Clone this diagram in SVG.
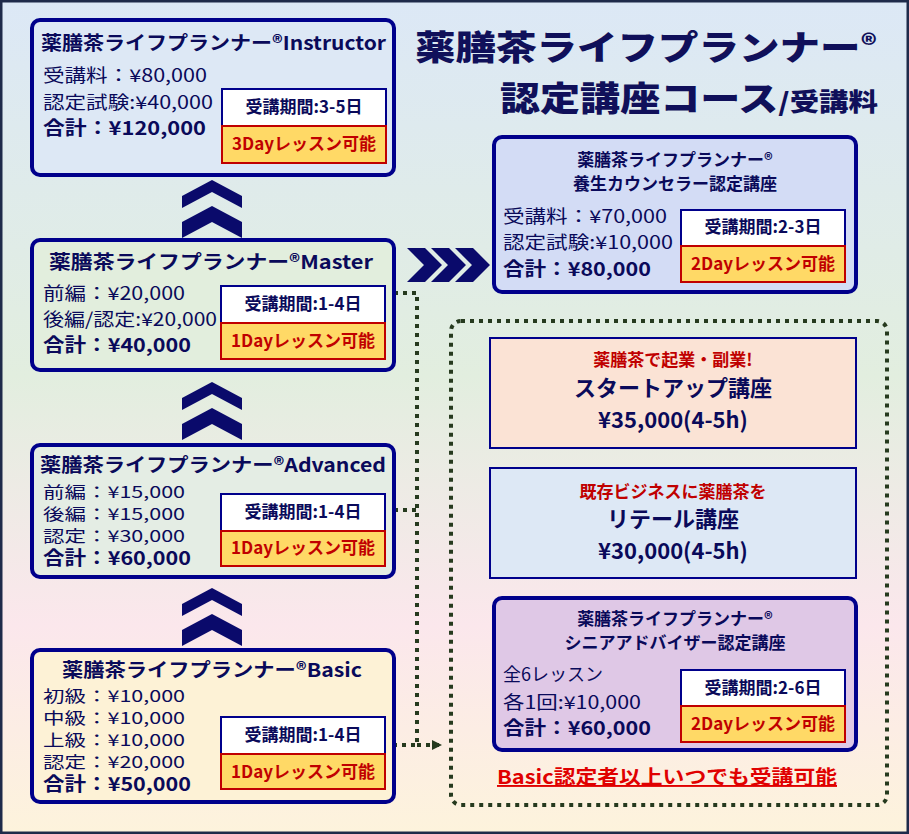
<svg xmlns="http://www.w3.org/2000/svg" width="909" height="834" viewBox="0 0 909 834">
<defs>
<linearGradient id="bg" x1="0" y1="0" x2="0" y2="1">
<stop offset="0" stop-color="#dce8f6"/><stop offset="0.45" stop-color="#e2eedf"/><stop offset="0.75" stop-color="#fbe7ec"/><stop offset="1" stop-color="#fdf3dc"/>
</linearGradient>
<g id="chev"><path d="M0 16 L30 0 L60 16 L60 28 L30 12 L0 28 Z M0 42 L30 26 L60 42 L60 58 L30 42 L0 58 Z" fill="#0a0a6b"/></g>
<marker id="ah" markerWidth="10" markerHeight="10" refX="8" refY="5" orient="auto" markerUnits="userSpaceOnUse"><path d="M0 0 L10 5 L0 10Z" fill="#263a1e"/></marker>
</defs>
<style>
text{font-family:"Noto Sans CJK JP","Noto Sans",sans-serif;fill:#0a0a5a}
.card{stroke:#00008b;stroke-width:4}
.h{font-size:19px;font-weight:bold}
.t{font-size:18px}
.s{font-size:16px}
.b{font-size:19px;font-weight:bold}
.w{fill:#fff;stroke:#00008b;stroke-width:2}
.o{fill:#ffd966;stroke:#c00000;stroke-width:2}
.wt{font-size:17px;font-weight:bold;text-anchor:middle}
.ot{font-size:17px;font-weight:bold;text-anchor:middle;fill:#c00000}
.pl{stroke:#00008b;stroke-width:2}
.c{text-anchor:middle}
.dot{fill:none;stroke:#263a1e;stroke-width:4;stroke-dasharray:4 5}
</style>
<rect x="1" y="1" width="907" height="832" fill="url(#bg)" stroke="#1e2a4a" stroke-width="3"/>
<g id="title">
<text x="415" y="60" textLength="462" lengthAdjust="spacingAndGlyphs" style="font-size:34px;font-weight:900;fill:#10105a">薬膳茶ライフプランナー<tspan style="font-size:26px" dy="-6">®</tspan></text>
<text x="500" y="111" textLength="378" lengthAdjust="spacingAndGlyphs" style="font-size:34px;font-weight:900;fill:#10105a">認定講座コース<tspan style="font-size:25px">/受講料</tspan></text>
</g>
<g id="chevrons">
<use href="#chev" x="182" y="180"/>
<use href="#chev" x="182" y="382"/>
<use href="#chev" x="182" y="588"/>
<path d="M407 248 L425 248 L442 265 L425 282 L407 282 L424 265 Z M431 248 L449 248 L466 265 L449 282 L431 282 L448 265 Z M455 248 L473 248 L490 265 L473 282 L455 282 L472 265 Z" fill="#0a0a6b"/>
</g>
<g id="connectors">
<path class="dot" d="M394 293 H417 V745 H395"/>
<path class="dot" d="M394 510 H417"/>
<path class="dot" d="M417 745 H440" marker-end="url(#ah)"/>
<rect class="dot" x="451" y="321" width="436" height="484" rx="10"/>
</g>
<g id="instructor">
<rect class="card" x="32" y="20" width="362" height="155" rx="8" fill="#dde8f5"/>
<text class="h" x="41" y="50" textLength="345" lengthAdjust="spacingAndGlyphs">薬膳茶ライフプランナー®Instructor</text>
<text class="t" x="43" y="82" textLength="164" lengthAdjust="spacingAndGlyphs">受講料：¥80,000</text>
<text class="t" x="43" y="109" textLength="170" lengthAdjust="spacingAndGlyphs">認定試験:¥40,000</text>
<text class="b" x="43" y="135" textLength="163" lengthAdjust="spacingAndGlyphs">合計：¥120,000</text>
<rect class="w" x="222" y="89" width="164" height="37"/><text class="wt" x="304" y="113">受講期間:3-5日</text>
<rect class="o" x="222" y="126" width="164" height="37"/><text class="ot" x="304" y="150">3Dayレッスン可能</text>
</g>
<g id="master">
<rect class="card" x="32" y="240" width="362" height="130" rx="8" fill="#e2eedd"/>
<text class="h" x="49" y="269" textLength="324" lengthAdjust="spacingAndGlyphs">薬膳茶ライフプランナー®Master</text>
<text class="t" x="43" y="300" textLength="142" lengthAdjust="spacingAndGlyphs">前編：¥20,000</text>
<text class="t" x="43" y="326" textLength="174" lengthAdjust="spacingAndGlyphs">後編/認定:¥20,000</text>
<text class="b" x="43" y="352" textLength="148" lengthAdjust="spacingAndGlyphs">合計：¥40,000</text>
<rect class="w" x="221" y="286" width="164" height="37"/><text class="wt" x="303" y="310">受講期間:1-4日</text>
<rect class="o" x="221" y="323" width="164" height="36"/><text class="ot" x="303" y="347">1Dayレッスン可能</text>
</g>
<g id="advanced">
<rect class="card" x="32" y="445" width="362" height="132" rx="8" fill="#e4ede4"/>
<text class="h" x="40" y="472" textLength="346" lengthAdjust="spacingAndGlyphs">薬膳茶ライフプランナー®Advanced</text>
<text class="s" x="43" y="498" textLength="142" lengthAdjust="spacingAndGlyphs">前編：¥15,000</text>
<text class="s" x="43" y="520" textLength="142" lengthAdjust="spacingAndGlyphs">後編：¥15,000</text>
<text class="s" x="43" y="542" textLength="142" lengthAdjust="spacingAndGlyphs">認定：¥30,000</text>
<text class="b" x="43" y="565" textLength="148" lengthAdjust="spacingAndGlyphs">合計：¥60,000</text>
<rect class="w" x="221" y="494" width="164" height="37"/><text class="wt" x="303" y="518">受講期間:1-4日</text>
<rect class="o" x="221" y="531" width="164" height="35"/><text class="ot" x="303" y="554">1Dayレッスン可能</text>
</g>
<g id="basic">
<rect class="card" x="32" y="650" width="362" height="152" rx="8" fill="#fdf2d6"/>
<text class="h" x="62" y="677" textLength="300" lengthAdjust="spacingAndGlyphs">薬膳茶ライフプランナー®Basic</text>
<text class="s" x="43" y="702" textLength="142" lengthAdjust="spacingAndGlyphs">初級：¥10,000</text>
<text class="s" x="43" y="724" textLength="142" lengthAdjust="spacingAndGlyphs">中級：¥10,000</text>
<text class="s" x="43" y="746" textLength="142" lengthAdjust="spacingAndGlyphs">上級：¥10,000</text>
<text class="s" x="43" y="768" textLength="142" lengthAdjust="spacingAndGlyphs">認定：¥20,000</text>
<text class="b" x="43" y="791" textLength="148" lengthAdjust="spacingAndGlyphs">合計：¥50,000</text>
<rect class="w" x="221" y="717" width="164" height="37"/><text class="wt" x="303" y="741">受講期間:1-4日</text>
<rect class="o" x="221" y="754" width="164" height="35"/><text class="ot" x="303" y="778">1Dayレッスン可能</text>
</g>
<g id="counselor">
<rect class="card" x="494" y="137" width="362" height="155" rx="8" fill="#d3dcf5"/>
<text class="h c" x="675" y="166" style="font-size:17px">薬膳茶ライフプランナー®</text>
<text class="h c" x="675" y="190" style="font-size:17px">養生カウンセラー認定講座</text>
<text class="t" x="503" y="223" textLength="164" lengthAdjust="spacingAndGlyphs">受講料：¥70,000</text>
<text class="t" x="503" y="249" textLength="170" lengthAdjust="spacingAndGlyphs">認定試験:¥10,000</text>
<text class="b" x="503" y="276" textLength="148" lengthAdjust="spacingAndGlyphs">合計：¥80,000</text>
<rect class="w" x="681" y="210" width="164" height="36"/><text class="wt" x="763" y="233">受講期間:2-3日</text>
<rect class="o" x="681" y="246" width="164" height="36"/><text class="ot" x="763" y="270">2Dayレッスン可能</text>
</g>
<g id="startup">
<rect class="pl" x="490" y="338" width="366" height="110" fill="#fbe3d5"/>
<text class="c" x="673" y="366" style="font-size:17px;font-weight:bold;fill:#c00000">薬膳茶で起業・副業!</text>
<text class="c" x="673" y="396" style="font-size:22px;font-weight:bold">スタートアップ講座</text>
<text class="c" x="673" y="428" style="font-size:22px;font-weight:bold">¥35,000(4-5h)</text>
</g>
<g id="retail">
<rect class="pl" x="490" y="468" width="366" height="110" fill="#dde8f5"/>
<text class="c" x="673" y="498" style="font-size:17px;font-weight:bold;fill:#c00000">既存ビジネスに薬膳茶を</text>
<text class="c" x="673" y="527" style="font-size:22px;font-weight:bold">リテール講座</text>
<text class="c" x="673" y="559" style="font-size:22px;font-weight:bold">¥30,000(4-5h)</text>
</g>
<g id="senior">
<rect class="card" x="494" y="598" width="362" height="152" rx="8" fill="#dfc8e6"/>
<text class="h c" x="675" y="625" style="font-size:17px">薬膳茶ライフプランナー®</text>
<text class="h c" x="675" y="649" style="font-size:17px">シニアアドバイザー認定講座</text>
<text class="t" x="503" y="681">全6レッスン</text>
<text class="t" x="503" y="709" textLength="138" lengthAdjust="spacingAndGlyphs">各1回:¥10,000</text>
<text class="b" x="503" y="735" textLength="148" lengthAdjust="spacingAndGlyphs">合計：¥60,000</text>
<rect class="w" x="681" y="670" width="164" height="36"/><text class="wt" x="763" y="694">受講期間:2-6日</text>
<rect class="o" x="681" y="706" width="164" height="36"/><text class="ot" x="763" y="730">2Dayレッスン可能</text>
</g>
<g id="note">
<text class="c" x="667" y="784" textLength="340" lengthAdjust="spacingAndGlyphs" style="font-size:19px;font-weight:bold;fill:#e00000;text-decoration:underline">Basic認定者以上いつでも受講可能</text>
</g>
</svg>
